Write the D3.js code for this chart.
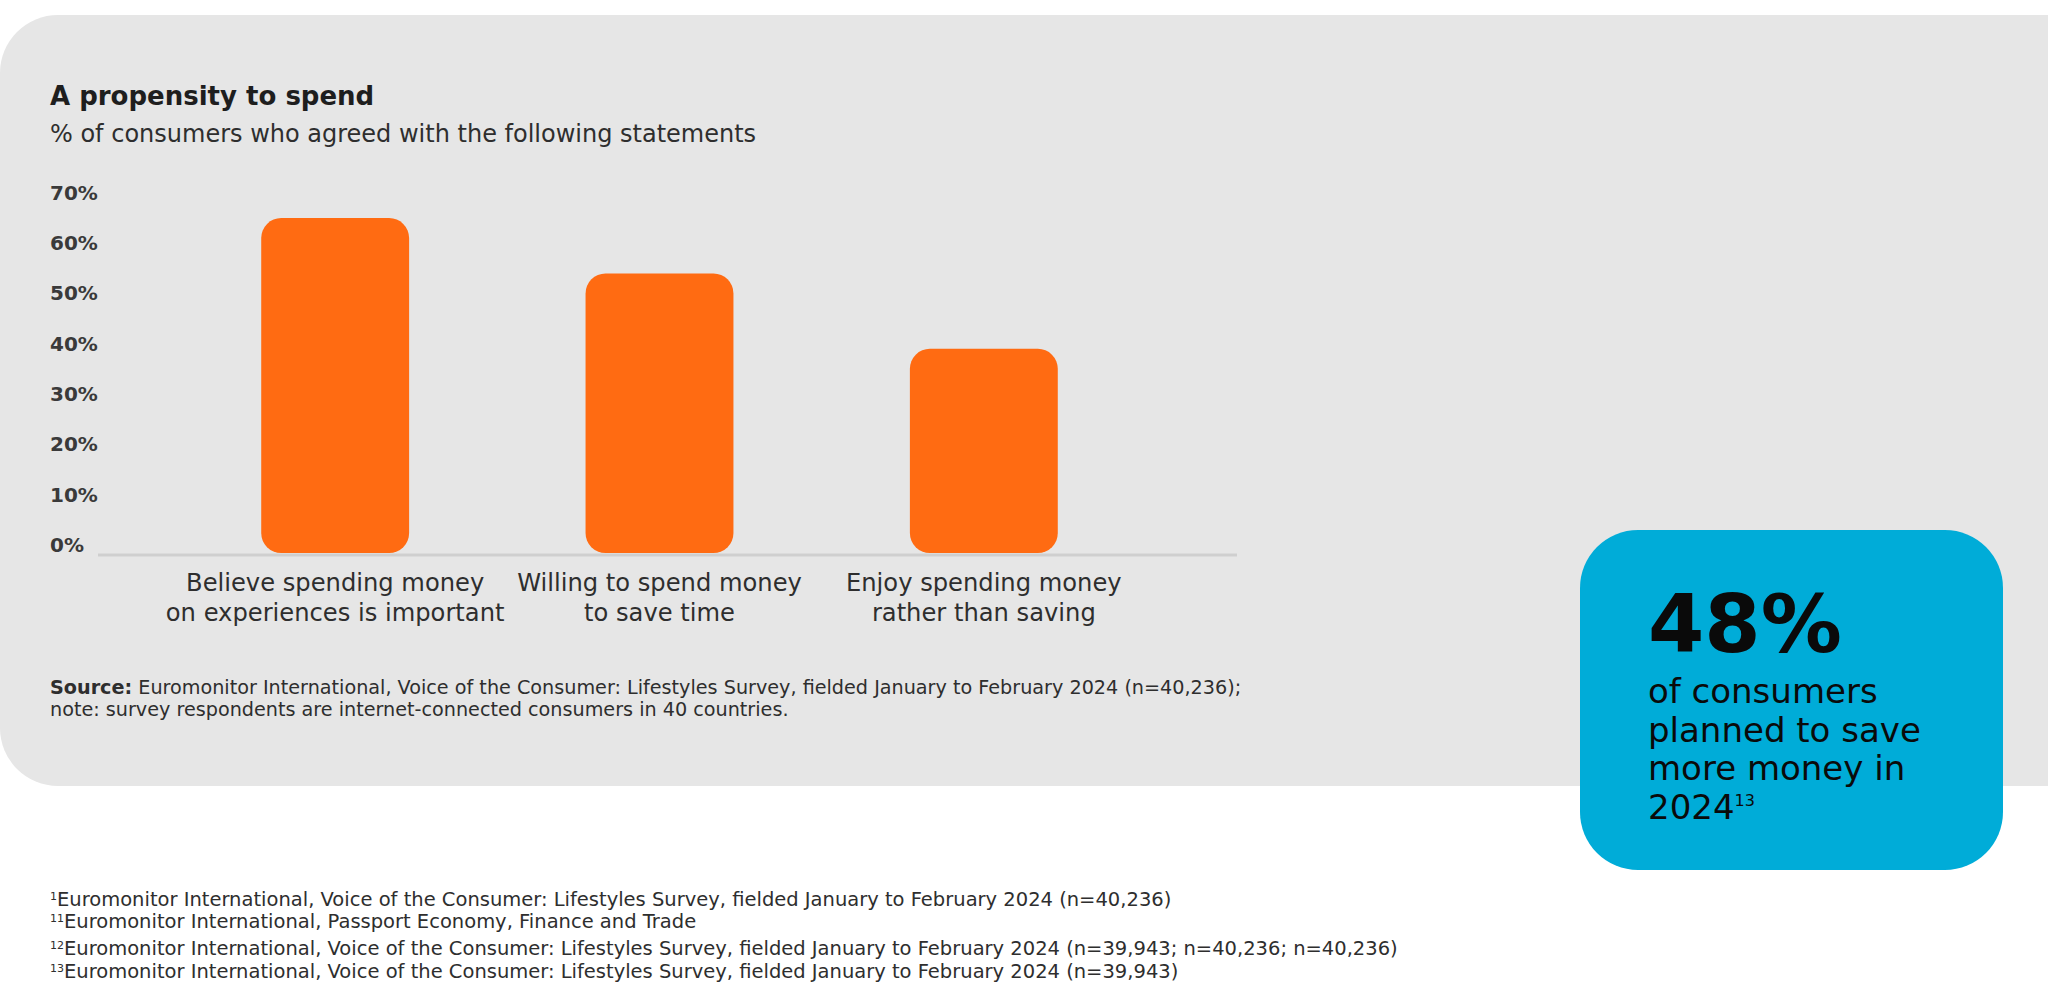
<!DOCTYPE html>
<html>
<head>
<meta charset="utf-8">
<script src="https://cdn.jsdelivr.net/npm/d3@7"></script>
<style>
  html, body { margin: 0; padding: 0; background: #fff; }
  svg { display: block; font-family: "DejaVu Sans", sans-serif; }
</style>
</head>
<body>
<div id="chart"></div>
<script>
// data
const categories = [
  'Believe spending money on experiences is important',
  'Willing to spend money to save time',
  'Enjoy spending money rather than saving'
]
const categoryLines = [
  ['Believe spending money', 'on experiences is important'],
  ['Willing to spend money', 'to save time'],
  ['Enjoy spending money', 'rather than saving']
]
const values = [67, 56, 41]
const yTicks = [0, 10, 20, 30, 40, 50, 60, 70]

const title = 'A propensity to spend'
const subtitle = '% of consumers who agreed with the following statements'
const sourceLines = [
  ['Source:', ' Euromonitor International, Voice of the Consumer: Lifestyles Survey, fielded January to February 2024 (n=40,236);'],
  ['', 'note: survey respondents are internet-connected consumers in 40 countries.']
]

const calloutValue = '48%'
const calloutLines = ['of consumers', 'planned to save', 'more money in', '2024']
const calloutSup = '13'

const footnoteNums = ['1', '11', '12', '13']
const footnotes = [
  'Euromonitor International, Voice of the Consumer: Lifestyles Survey, fielded January to February 2024 (n=40,236)',
  'Euromonitor International, Passport Economy, Finance and Trade',
  'Euromonitor International, Voice of the Consumer: Lifestyles Survey, fielded January to February 2024 (n=39,943; n=40,236; n=40,236)',
  'Euromonitor International, Voice of the Consumer: Lifestyles Survey, fielded January to February 2024 (n=39,943)'
]

const W = 2048, H = 990
const textColor = '#2e2e2e'

const svg = d3.select('#chart').append('svg')
  .attr('width', W)
  .attr('height', H)

// grey panel, runs off the right edge
svg.append('rect')
  .attr('x', 0)
  .attr('y', 15)
  .attr('width', W + 200)
  .attr('height', 771)
  .attr('rx', 58)
  .attr('ry', 58)
  .style('fill', '#e6e6e6')

// titles
svg.append('text')
  .attr('x', 50)
  .attr('y', 105)
  .style('font-size', '26px')
  .style('font-weight', 'bold')
  .style('fill', '#1e1e1e')
  .text(title)

svg.append('text')
  .attr('x', 50)
  .attr('y', 142)
  .style('font-size', '24px')
  .style('fill', textColor)
  .text(subtitle)

// scales
const x = d3.scaleBand()
  .domain(categories)
  .range([173, 1146])
  .paddingInner(0.544)
  .paddingOuter(0.272)

const y = d3.scaleLinear()
  .domain([0, 70])
  .range([555, 203])

// y axis, labels left-aligned and sitting a little above their value
const yAxis = svg.append('g')
  .attr('transform', 'translate(98,0)')
  .call(d3.axisLeft(y).tickValues(yTicks).tickFormat(d => d + '%').tickSize(0))

yAxis.select('.domain').remove()
yAxis.selectAll('text')
  .attr('x', -48)
  .attr('y', -10)
  .attr('text-anchor', 'start')
  .style('font-family', '"DejaVu Sans", sans-serif')
  .style('font-size', '20px')
  .style('font-weight', 'bold')
  .style('fill', '#3a3a3a')

// bars
svg.append('g')
  .selectAll('rect')
  .data(values)
  .join('rect')
  .attr('x', (d, i) => x(categories[i]))
  .attr('y', d => y(d))
  .attr('width', x.bandwidth())
  .attr('height', d => y(0) - y(d) - 2)
  .attr('rx', 20)
  .attr('ry', 20)
  .style('fill', '#ff6b12')

// baseline
svg.append('line')
  .attr('x1', 98)
  .attr('x2', 1237)
  .attr('y1', y(0))
  .attr('y2', y(0))
  .style('stroke', '#cfcfcf')
  .style('stroke-width', 3)

// category labels
const catLabels = svg.append('g')
  .selectAll('text')
  .data(categories)
  .join('text')
  .attr('text-anchor', 'middle')
  .attr('y', 591)
  .style('font-size', '24.2px')
  .style('fill', textColor)

catLabels.selectAll('tspan')
  .data((d, i) => categoryLines[i].map(t => ({ t, cx: x(d) + x.bandwidth() / 2 })))
  .join('tspan')
  .attr('x', d => d.cx)
  .attr('dy', (d, i) => i ? 29.5 : 0)
  .text(d => d.t)

// source
const src = svg.append('g')
  .selectAll('text')
  .data(sourceLines)
  .join('text')
  .attr('x', 50)
  .attr('y', (d, i) => 694 + i * 22)
  .style('font-size', '19.2px')
  .style('fill', textColor)

src.append('tspan')
  .style('font-weight', 'bold')
  .text(d => d[0])
src.append('tspan')
  .text(d => d[1])

// callout box
svg.append('rect')
  .attr('x', 1580)
  .attr('y', 530)
  .attr('width', 423)
  .attr('height', 340)
  .attr('rx', 58)
  .attr('ry', 58)
  .style('fill', '#00acd8')

svg.append('text')
  .attr('x', 1648)
  .attr('y', 652)
  .style('font-size', '81px')
  .style('font-weight', 'bold')
  .style('fill', '#0a0a0a')
  .text(calloutValue)

const callout = svg.append('text')
  .attr('x', 1648)
  .attr('y', 703)
  .style('font-size', '34px')
  .style('fill', '#0a0a0a')

callout.selectAll('tspan.line')
  .data(calloutLines)
  .join('tspan')
  .attr('class', 'line')
  .attr('x', 1648)
  .attr('y', (d, i) => 703 + i * 38.5)
  .text(d => d)

callout.append('tspan')
  .attr('dy', -13)
  .style('font-size', '16px')
  .text(calloutSup)

// footnotes
const fnY = [906, 928, 955, 978]
const fn = svg.append('g')
  .selectAll('text')
  .data(footnotes)
  .join('text')
  .attr('x', 50)
  .attr('y', (d, i) => fnY[i])
  .style('font-size', '19.5px')
  .style('fill', textColor)

fn.append('tspan')
  .attr('dy', -6)
  .style('font-size', '11px')
  .text((d, i) => footnoteNums[i])
fn.append('tspan')
  .attr('dy', 6)
  .text(d => d)
</script>
</body>
</html>
